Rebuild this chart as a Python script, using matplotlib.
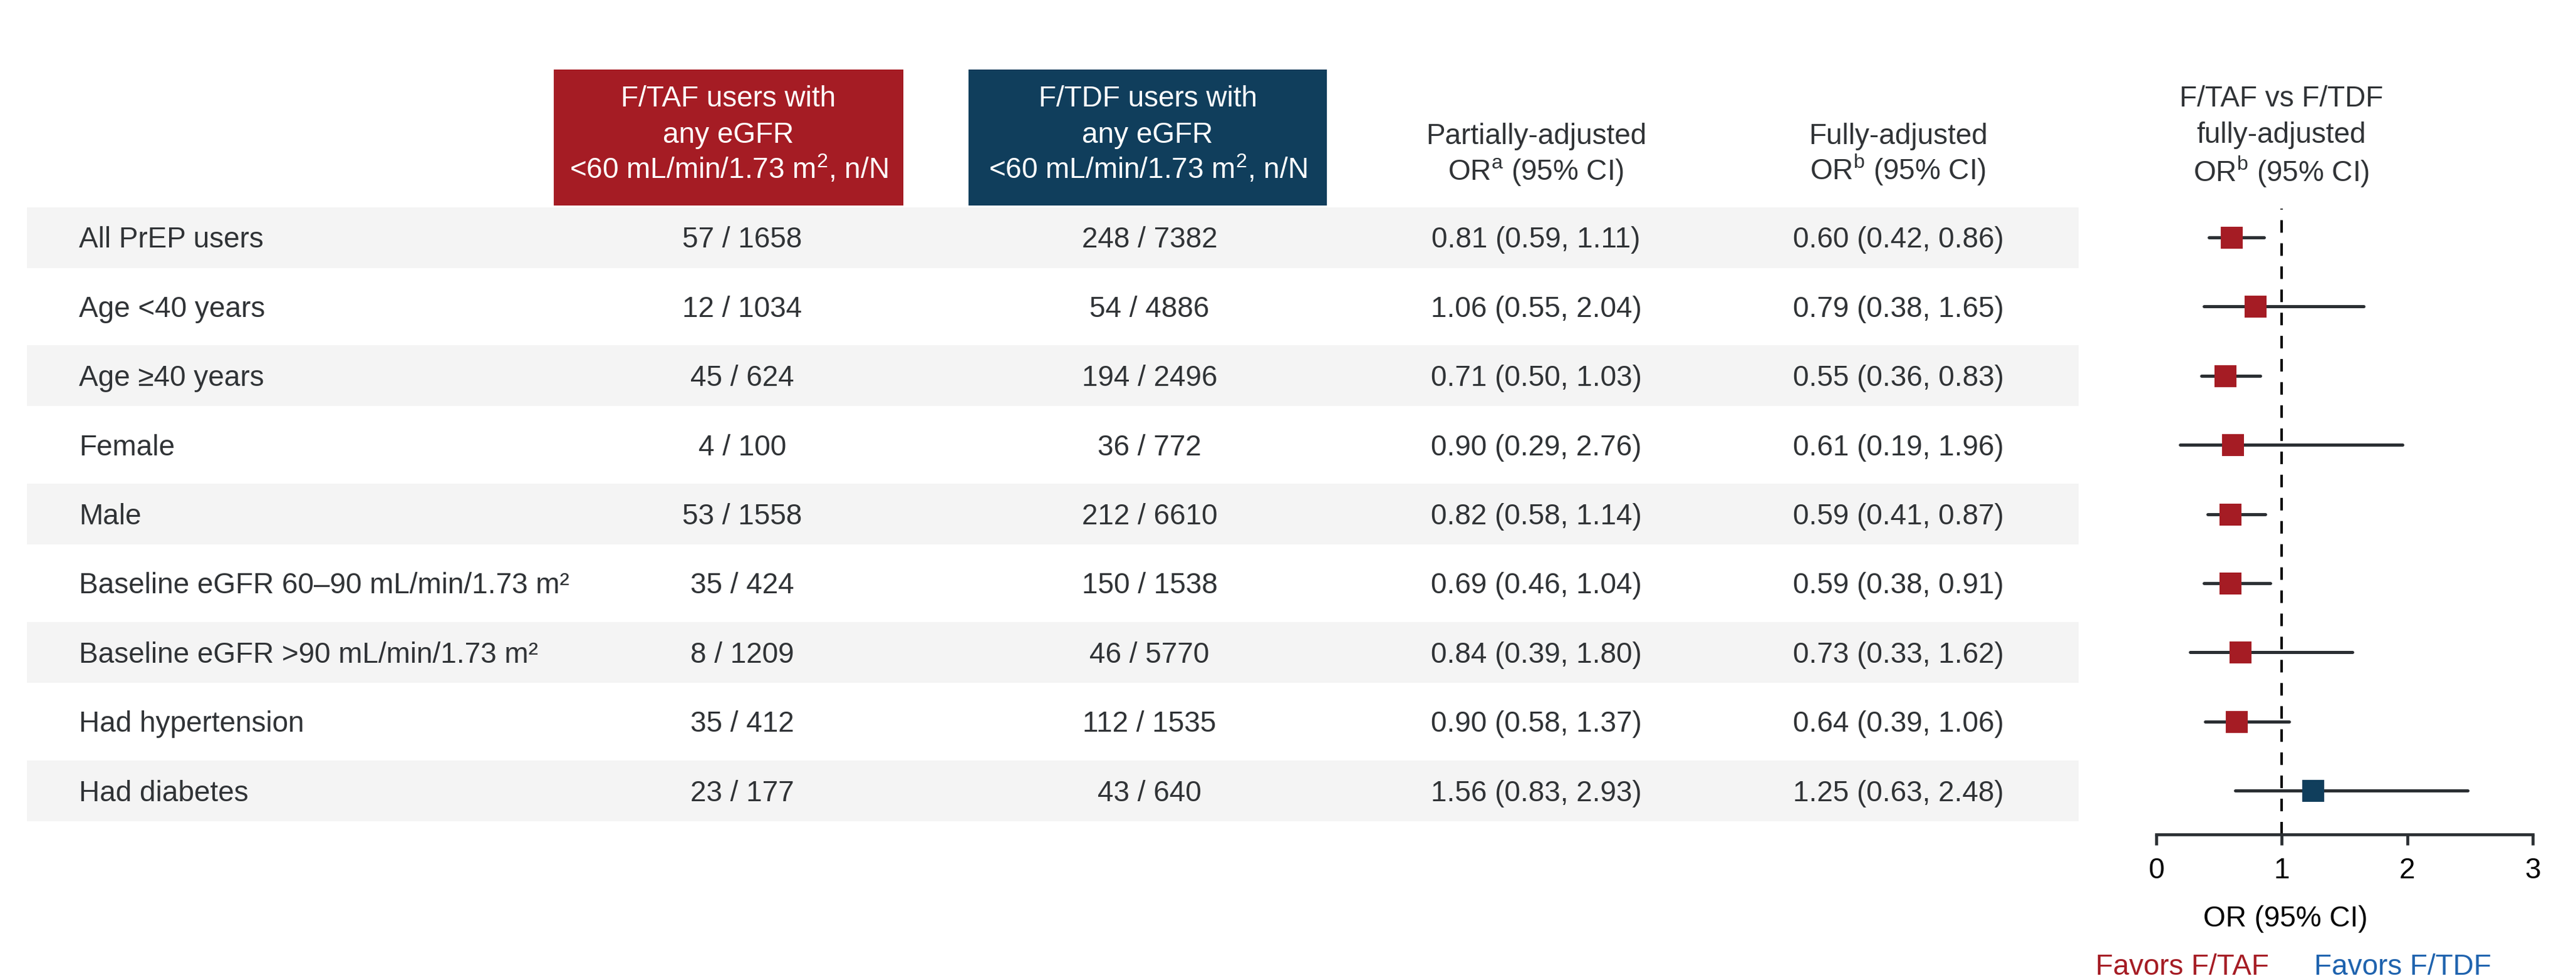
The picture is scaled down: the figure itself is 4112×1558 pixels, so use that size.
import matplotlib
matplotlib.use("Agg")
import matplotlib.pyplot as plt
from matplotlib.patches import Rectangle

plt.rcParams['font.family'] = ['Liberation Sans', 'DejaVu Sans']
plt.rcParams['lines.scale_dashes'] = False

# ---------------- data ----------------
subgroups = ["All PrEP users", "Age <40 years", "Age \u226540 years", "Female", "Male",
             "Baseline eGFR 60\u201390 mL/min/1.73 m\u00b2",
             "Baseline eGFR >90 mL/min/1.73 m\u00b2",
             "Had hypertension", "Had diabetes"]
taf_n = [57, 12, 45, 4, 53, 35, 8, 35, 23]
taf_N = [1658, 1034, 624, 100, 1558, 424, 1209, 412, 177]
tdf_n = [248, 54, 194, 36, 212, 150, 46, 112, 43]
tdf_N = [7382, 4886, 2496, 772, 6610, 1538, 5770, 1535, 640]
partial_or = [0.81, 1.06, 0.71, 0.90, 0.82, 0.69, 0.84, 0.90, 1.56]
partial_lo = [0.59, 0.55, 0.50, 0.29, 0.58, 0.46, 0.39, 0.58, 0.83]
partial_hi = [1.11, 2.04, 1.03, 2.76, 1.14, 1.04, 1.80, 1.37, 2.93]
full_or = [0.60, 0.79, 0.55, 0.61, 0.59, 0.59, 0.73, 0.64, 1.25]
full_lo = [0.42, 0.38, 0.36, 0.19, 0.41, 0.38, 0.33, 0.39, 0.63]
full_hi = [0.86, 1.65, 0.83, 1.96, 0.87, 0.91, 1.62, 1.06, 2.48]
# values as drawn in the forest panel
forest_or = [0.60, 0.79, 0.55, 0.61, 0.59, 0.59, 0.67, 0.64, 1.25]
forest_lo = [0.42, 0.38, 0.36, 0.19, 0.41, 0.38, 0.27, 0.39, 0.63]
forest_hi = [0.86, 1.65, 0.83, 1.96, 0.87, 0.91, 1.56, 1.06, 2.48]
xticks = [0, 1, 2, 3]

# ---------------- style ----------------
RED = '#A51C24'
NAVY = '#103E5C'
BLUE = '#1F63AE'
TXT = '#303336'
LINE = '#2B2F33'
BAND = '#F4F4F4'
FS = 16.5

W, H, DPI = 4112, 1558, 200
fig = plt.figure(figsize=(W / DPI, H / DPI), dpi=DPI)
bg = fig.add_axes([0, 0, 1, 1])
bg.set_xlim(0, W)
bg.set_ylim(H, 0)
bg.axis('off')

ROW0, ROWH = 379, 110.4
BOFF = 0.716 * FS * DPI / 72 / 2  # half cap height (px)

def row_y(i):
    return ROW0 + ROWH * i

# bands and row text
for i, name in enumerate(subgroups):
    yc = row_y(i)
    if i % 2 == 0:
        bg.add_patch(Rectangle((43, yc - 48.5), 3318 - 43, 97, color=BAND, lw=0, zorder=0))
    yb = yc + BOFF
    bg.text(126, yb, name, fontsize=FS, color=TXT, ha='left', va='baseline')
    bg.text(1185, yb, f"{taf_n[i]} / {taf_N[i]}", fontsize=FS, color=TXT, ha='center', va='baseline')
    bg.text(1835, yb, f"{tdf_n[i]} / {tdf_N[i]}", fontsize=FS, color=TXT, ha='center', va='baseline')
    bg.text(2452, yb, f"{partial_or[i]:.2f} ({partial_lo[i]:.2f}, {partial_hi[i]:.2f})",
            fontsize=FS, color=TXT, ha='center', va='baseline')
    bg.text(3030, yb, f"{full_or[i]:.2f} ({full_lo[i]:.2f}, {full_hi[i]:.2f})",
            fontsize=FS, color=TXT, ha='center', va='baseline')

# header boxes
bg.add_patch(Rectangle((884, 111), 1442 - 884, 328 - 111, color=RED, lw=0))
bg.add_patch(Rectangle((1546, 111), 2118 - 1546, 328 - 111, color=NAVY, lw=0))
box_lines_taf = ["F/TAF users with", "any eGFR", r"<60 mL/min/1.73 m$^{\mathregular{2}}$, n/N"]
box_lines_tdf = ["F/TDF users with", "any eGFR", r"<60 mL/min/1.73 m$^{\mathregular{2}}$, n/N"]
for yb, a, b in zip([170, 228, 285], box_lines_taf, box_lines_tdf):
    bg.text(1163, yb, a, fontsize=FS, color='white', ha='center', va='baseline')
    bg.text(1832, yb, b, fontsize=FS, color='white', ha='center', va='baseline')

bg.text(2452, 230, "Partially-adjusted", fontsize=FS, color=TXT, ha='center', va='baseline')
bg.text(2452, 287, r"OR$^{\mathregular{a}}$ (95% CI)", fontsize=FS, color=TXT, ha='center', va='baseline')
bg.text(3030, 230, "Fully-adjusted", fontsize=FS, color=TXT, ha='center', va='baseline')
bg.text(3030, 287, r"OR$^{\mathregular{b}}$ (95% CI)", fontsize=FS, color=TXT, ha='center', va='baseline')

bg.text(3642, 170, "F/TAF vs F/TDF", fontsize=FS, color=TXT, ha='center', va='baseline')
bg.text(3642, 228, "fully-adjusted", fontsize=FS, color=TXT, ha='center', va='baseline')
bg.text(3642, 290, r"OR$^{\mathregular{b}}$ (95% CI)", fontsize=FS, color=TXT, ha='center', va='baseline')

bg.text(3648, 1479, "OR (95% CI)", fontsize=FS, color='black', ha='center', va='baseline')
bg.text(3622, 1556, "Favors F/TAF", fontsize=FS, color=RED, ha='right', va='baseline')
bg.text(3694, 1556, "Favors F/TDF", fontsize=FS, color=BLUE, ha='left', va='baseline')

# ---------------- forest panel ----------------
x0, x1 = 3442, 4043
ytop, ybot = 333, 1332
ax = fig.add_axes([x0 / W, 1 - ybot / H, (x1 - x0) / W, (ybot - ytop) / H])
ax.patch.set_alpha(0)
ax.set_xlim(xticks[0], xticks[-1])
ax.set_ylim((ybot - ROW0) / ROWH, (ytop - ROW0) / ROWH)
for s in ['top', 'left', 'right']:
    ax.spines[s].set_visible(False)
ax.spines['bottom'].set_linewidth(1.7)
ax.spines['bottom'].set_color(LINE)
ax.set_xticks(xticks)
ax.set_xticklabels([str(t) for t in xticks])
ax.set_yticks([])
ax.tick_params(axis='x', length=6.1, width=1.7, color=LINE, pad=6.8,
               labelsize=FS, labelcolor='black', direction='out')

ax.axvline(1, color='black', lw=1.45, ls=(0, (7.2, 6.1)), zorder=1)
for i in range(len(subgroups)):
    ax.plot([forest_lo[i], forest_hi[i]], [i, i], color=LINE, lw=1.8,
            solid_capstyle='round', zorder=2, clip_on=False)
    col = RED if forest_or[i] < 1 else NAVY
    ax.plot([forest_or[i]], [i], marker='s', ms=12.6, mew=0, color=col,
            zorder=3, clip_on=False)

fig.savefig("out.png", dpi=DPI)
